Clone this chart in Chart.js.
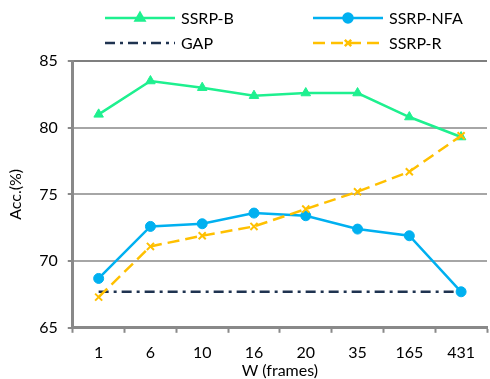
<!DOCTYPE html>
<html>
<head>
<meta charset="utf-8">
<script src="https://cdn.jsdelivr.net/npm/chart.js@4.4.0/dist/chart.umd.min.js"></script>
<style>
  html, body { margin: 0; padding: 0; background: #fff; overflow: hidden; }
  #wrap { width: 490px; height: 379px; overflow: hidden; }
</style>
</head>
<body>
<div id="wrap"><canvas id="acc-chart" width="494" height="379"></canvas></div>
<script>
const windows = ["1", "6", "10", "16", "20", "35", "165", "431"];
const ssrpB = [81.0, 83.5, 83.0, 82.4, 82.6, 82.6, 80.8, 79.3];
const ssrpNFA = [68.7, 72.6, 72.8, 73.6, 73.4, 72.4, 71.9, 67.7];
const gap = [67.7, 67.7, 67.7, 67.7, 67.7, 67.7, 67.7, 67.7];
const ssrpR = [67.3, 71.1, 71.9, 72.6, 73.9, 75.2, 76.7, 79.4];
const yTicks = [65, 70, 75, 80, 85];

const FONT = "Lato, 'Open Sans', sans-serif";
const AXIS_GRAY = "#898989";

// legend drawn by hand: two columns, line sample with marker in the middle
const legendPlugin = {
  id: "twoColLegend",
  afterDraw(chart) {
    const ctx = chart.ctx;
    const cols = [105, 313];
    const rows = [18, 43];
    chart.data.datasets.forEach((ds, i) => {
      const x = cols[i % 2];
      const y = rows[Math.floor(i / 2)];
      ctx.save();
      ctx.strokeStyle = ds.borderColor;
      ctx.lineWidth = ds.borderWidth;
      ctx.setLineDash(ds.borderDash || []);
      ctx.beginPath();
      ctx.moveTo(x, y);
      ctx.lineTo(x + 70, y);
      ctx.stroke();
      ctx.setLineDash([]);
      if (ds.pointRadius > 0) {
        ctx.fillStyle = ds.pointBackgroundColor;
        ctx.strokeStyle = ds.pointBorderColor;
        Chart.helpers.drawPoint(ctx, {
          pointStyle: ds.pointStyle,
          radius: ds.pointRadius - 0.5,
          rotation: 0,
          borderWidth: ds.pointBorderWidth,
        }, x + 35, y);
      }
      ctx.fillStyle = "#000";
      ctx.font = "16px " + FONT;
      ctx.textBaseline = "middle";
      ctx.textAlign = "left";
      ctx.fillText(ds.label, x + 76, y + 1);
      ctx.restore();
    });
  },
};

const context = document.getElementById("acc-chart").getContext("2d");
const accChart = new Chart(context, {
  type: "line",
  data: {
    labels: windows,
    datasets: [
      {
        label: "SSRP-B",
        data: ssrpB,
        borderColor: "#1ef08f",
        backgroundColor: "#1ef08f",
        pointBackgroundColor: "#1ef08f",
        pointBorderColor: "#1ef08f",
        borderWidth: 2.5,
        pointStyle: "triangle",
        pointRadius: 5.5,
        pointBorderWidth: 1,
        order: 2,
      },
      {
        label: "SSRP-NFA",
        data: ssrpNFA,
        borderColor: "#00b0f0",
        backgroundColor: "#00b0f0",
        pointBackgroundColor: "#00b0f0",
        pointBorderColor: "#00b0f0",
        borderWidth: 2.5,
        pointStyle: "circle",
        pointRadius: 5,
        pointBorderWidth: 1,
        order: 1,
      },
      {
        label: "GAP",
        data: gap,
        borderColor: "#1f3350",
        backgroundColor: "#1f3350",
        pointBackgroundColor: "#1f3350",
        pointBorderColor: "#1f3350",
        borderWidth: 2.5,
        borderDash: [10, 5, 3, 5],
        pointRadius: 0,
        pointBorderWidth: 0,
        order: 3,
      },
      {
        label: "SSRP-R",
        data: ssrpR,
        borderColor: "#ffc000",
        backgroundColor: "#ffc000",
        pointBackgroundColor: "#ffc000",
        pointBorderColor: "#ffc000",
        borderWidth: 2.5,
        borderDash: [12, 6],
        pointStyle: "crossRot",
        pointRadius: 5,
        pointBorderWidth: 2,
        order: 0,
      },
    ],
  },
  options: {
    responsive: false,
    animation: false,
    layout: { padding: { top: 61, right: 0, left: 6, bottom: 0 } },
    plugins: {
      legend: { display: false },
      tooltip: { enabled: false },
    },
    elements: { line: { tension: 0 } },
    scales: {
      x: {
        offset: true,
        grid: {
          offset: true,
          drawOnChartArea: false,
          drawTicks: true,
          tickLength: 5,
          tickWidth: 2,
          tickColor: AXIS_GRAY,
        },
        border: { color: AXIS_GRAY, width: 3 },
        ticks: { color: "#000", font: { family: FONT, size: 16 }, padding: 10 },
        title: {
          display: true,
          text: "W (frames)",
          color: "#000",
          font: { family: FONT, size: 16, lineHeight: 1 },
          padding: { top: -9, bottom: 0 },
        },
      },
      y: {
        min: 65,
        max: 85,
        afterBuildTicks: (axis) => {
          axis.ticks = yTicks.map((v) => ({ value: v }));
        },
        grid: {
          color: (c) => (c.tick && c.tick.value === 85 ? "#7f7f7f" : "#a6a6a6"),
          lineWidth: 2,
          tickLength: 5,
          tickColor: AXIS_GRAY,
          tickWidth: 2,
        },
        border: { color: AXIS_GRAY, width: 3 },
        ticks: { color: "#000", font: { family: FONT, size: 16 }, padding: 10 },
        title: {
          display: true,
          text: "Acc.(%)",
          color: "#000",
          font: { family: FONT, size: 16 },
          padding: { top: 0, bottom: 4 },
        },
      },
    },
  },
  plugins: [legendPlugin],
});
</script>
</body>
</html>
